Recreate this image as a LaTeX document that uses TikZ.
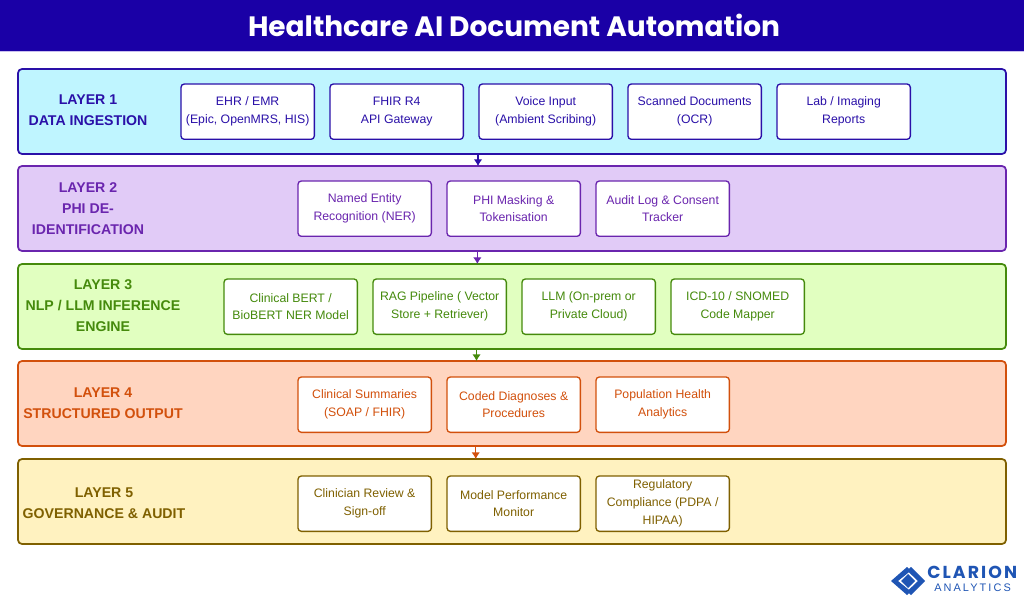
\documentclass[tikz,border=0pt]{standalone}
\usepackage{fontspec}
\setmainfont{Liberation Sans}
\newfontfamily\titlefont{Poppins}
\newfontfamily\logofont[LetterSpace=12]{Poppins}
\newfontfamily\logothin[LetterSpace=19]{Liberation Sans}
\usepackage{tikz}
\usetikzlibrary{calc}
\usetikzlibrary{positioning}
\usetikzlibrary{arrows.meta}

\definecolor{navy}{HTML}{1A00A6}
\definecolor{bandline}{HTML}{C9BFEF}
\definecolor{fillA}{HTML}{BFF5FF}
\definecolor{fillB}{HTML}{E1CBF7}
\definecolor{fillC}{HTML}{E1FFC0}
\definecolor{fillD}{HTML}{FFD5C0}
\definecolor{fillE}{HTML}{FFF2C0}
\definecolor{lineA}{HTML}{2A10A8}
\definecolor{lineB}{HTML}{6A25AE}
\definecolor{lineC}{HTML}{458A0C}
\definecolor{lineD}{HTML}{D2500C}
\definecolor{lineE}{HTML}{7F6000}
\definecolor{logoblue}{HTML}{1F55B4}

\tikzset{
    layerbox/.style={draw=#1, line width=1.3pt, rounded corners=3pt, minimum width=741pt,
        minimum height=63.75pt, inner sep=0pt, outer sep=0pt, anchor=north west},
    itembox/.style={draw=#1, fill=white, text=#1, line width=1pt, rounded corners=2.5pt,
        minimum width=100pt, minimum height=41.5pt, inner sep=0pt, outer sep=0pt, align=center,
        font=\fontsize{9.2}{13.4}\selectfont, anchor=north west, nudge=0pt},
    nudge/.style={execute at begin node=\rule{0pt}{\dimexpr15.5pt+#1\relax}},
    lowtext/.style={nudge=2.2pt},
    hightext/.style={nudge=-3pt},
    layertitle/.style={text=#1, align=center, inner sep=0pt,
        font=\fontsize{10.6}{15.7}\selectfont\bfseries},
    flow/.style={draw=#1, line width=1.1pt, -{Latex[length=5pt,width=6.5pt]}},
}

\begin{document}
\begin{tikzpicture}[x=.75pt, y=-.75pt]

    \def\d{11.75pt}

    \useasboundingbox (0,0) rectangle (1024,602);

    % header band
    \node (band) [fill=navy, minimum width=768pt, minimum height=38.25pt, inner sep=0pt,
        outer sep=0pt, anchor=north west] at (0,0) {};
    \draw[bandline] (band.south west) -- (band.south east);
    \node (head) at (514,25.5) [text=white, font=\titlefont\fontsize{21}{24}\selectfont\bfseries]
    {Healthcare AI Document Automation};

    % layers
    \node (L1) [layerbox=lineA, fill=fillA] at (18,69) {};
    \node (L2) [layerbox=lineB, fill=fillB] at (18,166) {};
    \node (L3) [layerbox=lineC, fill=fillC] at (18,264) {};
    \node (L4) [layerbox=lineD, fill=fillD] at (18,361) {};
    \node (L5) [layerbox=lineE, fill=fillE] at (18,459) {};

    % layer titles
    \node (T1) [layertitle=lineA] at (88,110) {LAYER 1\\DATA INGESTION};
    \node (T2) [layertitle=lineB] at (88,208.5) {LAYER 2\\PHI DE-\\IDENTIFICATION};
    \node (T3) [layertitle=lineC] at (103,306) {LAYER 3\\NLP / LLM INFERENCE\\ENGINE};
    \node (T4) [layertitle=lineD] at (103,403) {LAYER 4\\STRUCTURED OUTPUT};
    \node (T5) [layertitle=lineE] at (104,503) {LAYER 5\\GOVERNANCE \& AUDIT};

    % items of layer 1
    \node (A1) [itembox=lineA] at (181,84) {EHR / EMR\\(Epic, OpenMRS, HIS)};
    \node (A2) [itembox=lineA, right=\d of A1.north east, anchor=north west] {FHIR R4\\API Gateway};
    \node (A3) [itembox=lineA, right=\d of A2.north east, anchor=north west] {Voice Input\\(Ambient Scribing)};
    \node (A4) [itembox=lineA, right=\d of A3.north east, anchor=north west] {Scanned Documents\\(OCR)};
    \node (A5) [itembox=lineA, right=\d of A4.north east, anchor=north west] {Lab / Imaging\\Reports};

    % items of layer 2
    \node (B1) [itembox=lineB, lowtext] at (298,181) {Named Entity\\Recognition (NER)};
    \node (B2) [itembox=lineB, right=\d of B1.north east, anchor=north west] {PHI Masking \&\\Tokenisation};
    \node (B3) [itembox=lineB, lowtext, right=\d of B2.north east, anchor=north west] {Audit Log \& Consent\\Tracker};

    % items of layer 3
    \node (C1) [itembox=lineC] at (224,279) {Clinical BERT /\\BioBERT NER Model};
    \node (C2) [itembox=lineC, right=\d of C1.north east, anchor=north west] {RAG Pipeline ( Vector\\Store + Retriever)};
    \node (C3) [itembox=lineC, right=\d of C2.north east, anchor=north west] {LLM (On-prem or\\Private Cloud)};
    \node (C4) [itembox=lineC, lowtext, right=\d of C3.north east, anchor=north west] {ICD-10 / SNOMED\\Code Mapper};

    % items of layer 4
    \node (D1) [itembox=lineD, hightext] at (298,377) {Clinical Summaries\\(SOAP / FHIR)};
    \node (D2) [itembox=lineD, hightext, right=\d of D1.north east, anchor=north west] {Coded Diagnoses \&\\Procedures};
    \node (D3) [itembox=lineD, hightext, right=\d of D2.north east, anchor=north west] {Population Health\\Analytics};

    % items of layer 5
    \node (E1) [itembox=lineE] at (298,476) {Clinician Review \&\\Sign-off};
    \node (E2) [itembox=lineE, right=\d of E1.north east, anchor=north west] {Model Performance\\Monitor};
    \node (E3) [itembox=lineE, hightext, right=\d of E2.north east, anchor=north west] {Regulatory\\Compliance (PDPA /\\HIPAA)};

    % arrows between layers
    \draw[flow=lineA] ([xshift=-25.5pt]L1.south) -- ([xshift=-25.5pt]L2.north);
    \draw[flow=lineB] ([xshift=-26pt]L2.south) -- ([xshift=-26pt]L3.north);
    \draw[flow=lineC] ([xshift=-26.6pt]L3.south) -- ([xshift=-26.6pt]L4.north);
    \draw[flow=lineD] ([xshift=-27.2pt]L4.south) -- ([xshift=-27.2pt]L5.north);

    % logo
    \begin{scope}[shift={(908,581)}]
        \fill[logoblue] (-17,0) -- (-1,-14) -- (3,-10.5) -- (-10,0) -- (3,10.5) -- (-1,14) -- cycle;
        \fill[logoblue] (17,0) -- (3,-14) -- (-1,-10.5) -- (10,0) -- (-1,10.5) -- (3,14) -- cycle;
        \fill[logoblue] (-7,0) -- (0,-7) -- (7,0) -- (0,7) -- cycle;
    \end{scope}
    \node (logoA) [text=logoblue, anchor=west, inner sep=0pt, font=\logofont\fontsize{13}{13}\selectfont\bfseries]
    at (927,572) {CLARION};
    \node (logoB) [text=logoblue, anchor=west, inner sep=0pt, font=\logothin\fontsize{8.2}{9}\selectfont]
    at (934,588) {ANALYTICS};

\end{tikzpicture}
\end{document}
